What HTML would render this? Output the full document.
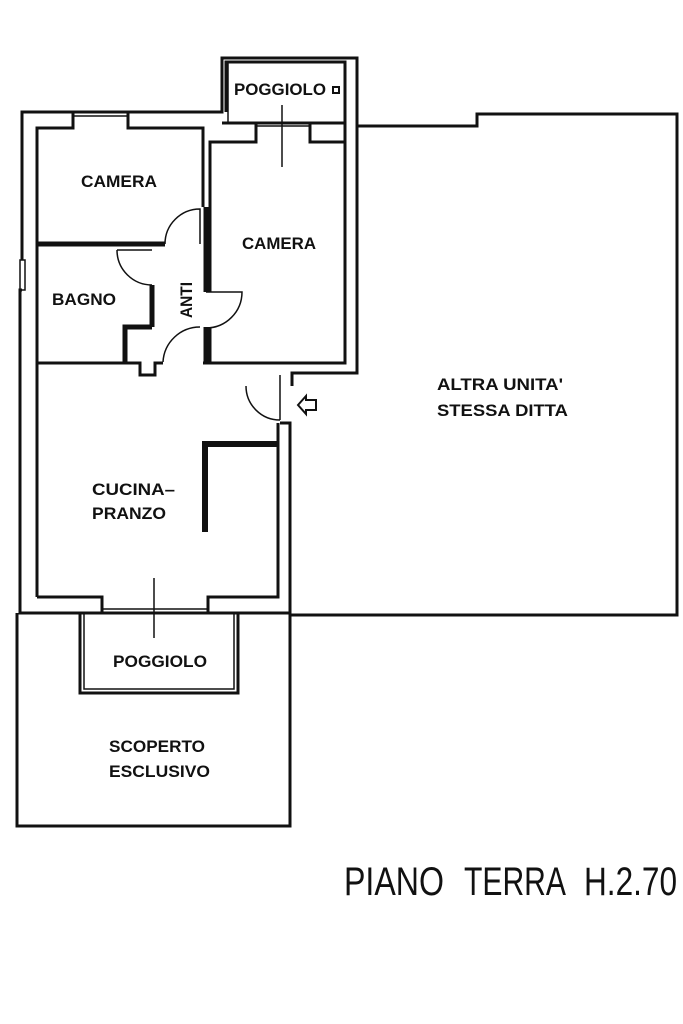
<!DOCTYPE html>
<html><head><meta charset="utf-8"><style>
html,body{margin:0;padding:0;background:#fff;}
svg{display:block;}
text{font-family:"Liberation Sans",sans-serif;fill:#111;}
</style></head><body>
<svg width="683" height="1024" viewBox="0 0 683 1024" xmlns="http://www.w3.org/2000/svg">
<g fill="none" stroke="#111" stroke-width="3" stroke-linejoin="miter">
<polyline points="357,126 477,126 477,114 677,114 677,615 290,615"/>
<polyline points="17,613 17,826 290,826 290,613"/>
<polyline points="22,260 22,112 222,112 222,58 357,58 357,373 292,373 292,386"/>
<polyline points="22,290 20,290 20,613 290,613 290,423 280,423"/>
<rect x="20" y="260" width="5" height="30" stroke-width="1.5"/>
<polyline points="226,112 226,62 345,62 345,123 222,123" />
<polyline points="345,123 345,363 210,363 210,327"/>
<polyline points="210,292 210,142 256,142 256,123"/>
<polyline points="310,123 310,142 345,142"/>
<line x1="256" y1="126" x2="310" y2="126" stroke-width="1.5"/>
<polyline points="37,597 37,128 73,128 73,112"/>
<polyline points="128,112 128,128 203,128 203,207"/>
<line x1="73" y1="116" x2="128" y2="116" stroke-width="1.5"/>
<polyline points="37,597 102,597 102,613"/>
<polyline points="208,613 208,597 278,597 278,423"/>
<line x1="102" y1="609" x2="208" y2="609" stroke-width="1.5"/>
<polyline points="37,363 140,363 140,375 155,375 155,363 163,363"/>
<line x1="203" y1="363" x2="210" y2="363"/>
<polyline points="80,613 80,693 238,693 238,613"/>
<polyline points="84,613 84,689 234,689 234,613" stroke-width="1.5"/>
<line x1="228" y1="62" x2="228" y2="123" stroke-width="1.5"/>
<line x1="37" y1="244" x2="165" y2="244" stroke-width="5"/>
<line x1="152" y1="285" x2="152" y2="327"  stroke-width="5"/>
<polyline points="152,327 125,327 125,363" stroke-width="5"/>
<line x1="206" y1="207" x2="206" y2="292" stroke-width="5"/>
<line x1="206" y1="327" x2="206" y2="363" stroke-width="5"/>
<path d="M165,244 A35,35 0 0 1 200,209 L200,244" stroke-width="1.5"/>
<path d="M117,250 L152,250 M117,250 A35,35 0 0 0 152,285" stroke-width="1.5"/>
<path d="M206,292 L242,292 A36,36 0 0 1 206,328" stroke-width="1.5"/>
<path d="M163,362 A37,37 0 0 1 200,327" stroke-width="1.5"/>
<path d="M280,375 L280,420 M246,386 A34,34 0 0 0 280,420" stroke-width="1.5"/>
<polyline points="205,532 205,444 278,444" stroke-width="6"/>
<line x1="282" y1="105" x2="282" y2="167" stroke-width="1.5"/>
<line x1="154" y1="578" x2="154" y2="638" stroke-width="1.5"/>
<path d="M298,405 L306,396 L306,400 L316,400 L316,410 L306,410 L306,414 Z" stroke-width="2"/>
<rect x="333" y="87" width="6" height="6" stroke-width="2"/>
</g>
<g font-size="17" font-weight="bold">
<text x="81" y="187" textLength="76" lengthAdjust="spacingAndGlyphs">CAMERA</text>
<text x="242" y="249" textLength="74" lengthAdjust="spacingAndGlyphs">CAMERA</text>
<text x="52" y="305" textLength="64" lengthAdjust="spacingAndGlyphs">BAGNO</text>
<text x="234" y="95" textLength="92" lengthAdjust="spacingAndGlyphs">POGGIOLO</text>
<text x="92" y="495" textLength="83" lengthAdjust="spacingAndGlyphs">CUCINA–</text>
<text x="92" y="519" textLength="74" lengthAdjust="spacingAndGlyphs">PRANZO</text>
<text x="113" y="667" textLength="94" lengthAdjust="spacingAndGlyphs">POGGIOLO</text>
<text x="109" y="752" textLength="96" lengthAdjust="spacingAndGlyphs">SCOPERTO</text>
<text x="109" y="777" textLength="101" lengthAdjust="spacingAndGlyphs">ESCLUSIVO</text>
<text x="437" y="390" textLength="126" lengthAdjust="spacingAndGlyphs">ALTRA UNITA'</text>
<text x="437" y="416" textLength="131" lengthAdjust="spacingAndGlyphs">STESSA DITTA</text>
<text transform="translate(192,318) rotate(-90)" textLength="36" lengthAdjust="spacingAndGlyphs">ANTI</text>
</g>
<g font-size="40">
<text x="344" y="895" textLength="100" lengthAdjust="spacingAndGlyphs">PIANO</text>
<text x="464" y="895" textLength="102" lengthAdjust="spacingAndGlyphs">TERRA</text>
<text x="584" y="895" textLength="93" lengthAdjust="spacingAndGlyphs">H.2.70</text>
</g>
</svg>
</body></html>
